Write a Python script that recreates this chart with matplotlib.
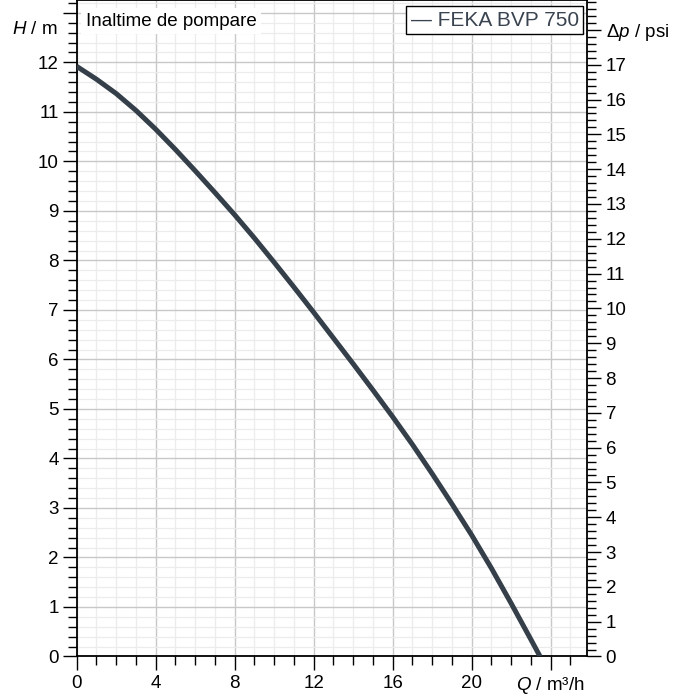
import numpy as np
import matplotlib
matplotlib.use('Agg')
import matplotlib.pyplot as plt
from matplotlib.ticker import MultipleLocator, FixedLocator

plt.rcParams['font.family'] = ['Liberation Sans', 'DejaVu Sans']
plt.rcParams['mathtext.fontset'] = 'custom'
plt.rcParams['mathtext.rm'] = 'Liberation Sans'
plt.rcParams['mathtext.it'] = 'Liberation Sans:italic'

# pump curve (Q in m3/h, H in m)
flow = [0, 1, 2, 3, 4, 5, 6, 7, 8, 9, 10, 11, 12, 13, 14, 15, 16, 17, 18,
        19, 20, 21, 22, 23, 23.46]
head = [11.92, 11.66, 11.37, 11.03, 10.65, 10.24, 9.81, 9.37, 8.92, 8.45, 7.96,
        7.46, 6.95, 6.43, 5.91, 5.38, 4.84, 4.28, 3.69, 3.08, 2.45, 1.78, 1.07,
        0.34, 0.0]
series_name = 'FEKA BVP 750'
title_text = 'Inaltime de pompare'

M_PER_PSI = 0.70307
x_max = 25.86
y_max = 13.26

fig = plt.figure(figsize=(6.78, 6.95), dpi=100)
ax = fig.add_axes([0.1131, 0.0554, 0.7534, 0.9446])

ax.plot(flow, head, color='#343f4a', linewidth=3.6, solid_capstyle='butt',
        solid_joinstyle='round', zorder=3)

ax.set_xlim(0, x_max)
ax.set_ylim(0, y_max)

# x axis
ax.xaxis.set_major_locator(FixedLocator([0, 4, 8, 12, 16, 20, 24]))
ax.set_xticklabels(['0', '4', '8', '12', '16', '20', '$Q$ / m³/h'])
ax.xaxis.set_minor_locator(MultipleLocator(1))
# y axis
ax.set_yticks(range(0, 14))
ax.set_yticklabels([str(i) for i in range(0, 13)] + [''])
ax.yaxis.set_minor_locator(MultipleLocator(0.2))

ax.tick_params(which='major', direction='out', length=10, width=1, labelsize=13.5)
ax.tick_params(axis='x', which='major', pad=3)
ax.tick_params(axis='y', which='major', pad=3)
ax.tick_params(which='minor', direction='out', length=6.5, width=1)

ax.grid(which='major', color='#c8c8c8', linewidth=1.0, zorder=0)
ax.grid(which='minor', color='#ececec', linewidth=0.9, zorder=0)
ax.set_axisbelow(True)

for sp in ax.spines.values():
    sp.set_linewidth(1.3)
    sp.set_color('black')

# right axis in psi
ax2 = ax.twinx()
ax2.set_ylim(0, y_max / M_PER_PSI)
ax2.set_yticks(range(0, 19))
ax2.set_yticklabels([str(i) for i in range(0, 18)] + [r'$\Delta p$ / psi'])
ax2.yaxis.set_minor_locator(MultipleLocator(0.2))
ax2.tick_params(which='major', direction='out', length=10, width=1, labelsize=13.5, pad=3)
ax2.tick_params(which='minor', direction='out', length=6.5, width=1)
for sp in ax2.spines.values():
    sp.set_visible(False)

# left axis label at the same height as the psi label
ax.text(-0.038, 18 * M_PER_PSI, '$H$ / m', transform=ax.get_yaxis_transform(),
        ha='right', va='center', fontsize=13.5)

ax.text(0.45, 12.74, title_text, fontsize=13.5, ha='left', va='baseline', zorder=5,
        bbox=dict(boxstyle='square,pad=0.25', facecolor='white', edgecolor='none'))

ax.text(16.9, 12.74, '\u2014 ' + series_name, fontsize=15, color='#3a4450',
        ha='left', va='baseline', zorder=5,
        bbox=dict(boxstyle='square,pad=0.22', facecolor='white', edgecolor='black',
                  linewidth=1.0))

fig.savefig('out.png', dpi=100)
plt.close(fig)
